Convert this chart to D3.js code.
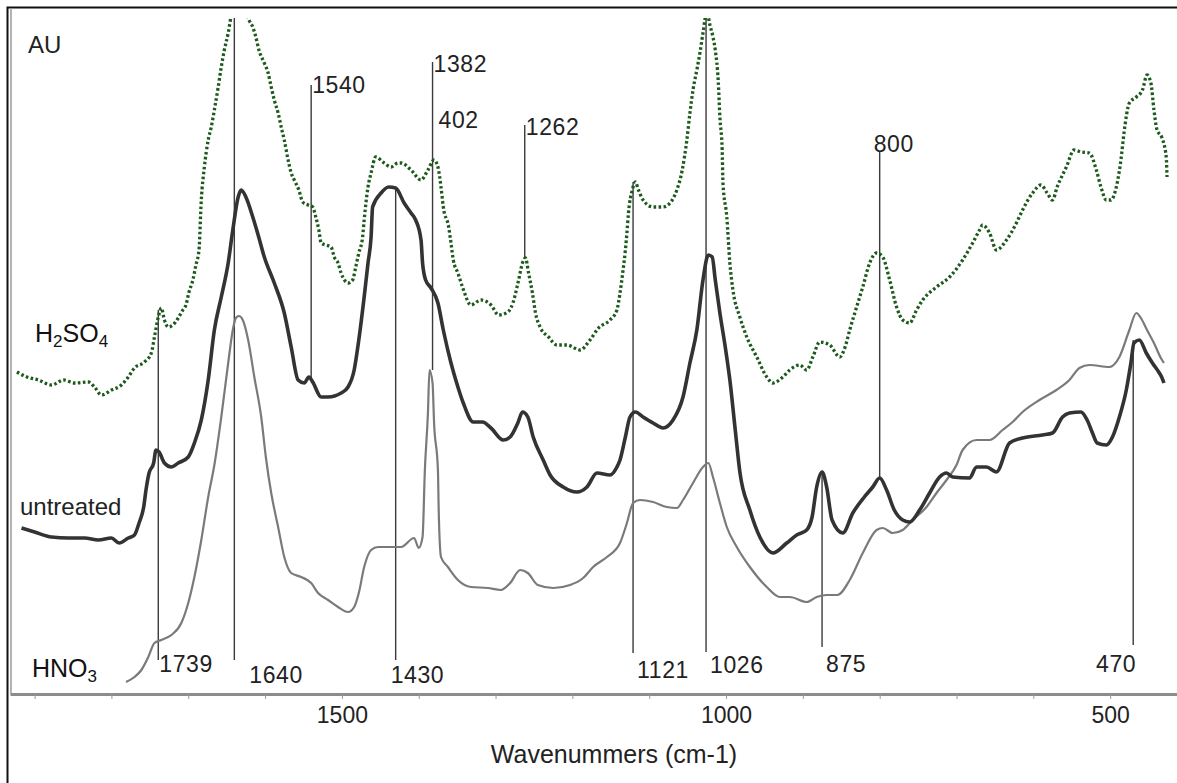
<!DOCTYPE html>
<html>
<head>
<meta charset="utf-8">
<script src="https://cdn.jsdelivr.net/npm/d3@7"></script>
<style>
  html, body { margin: 0; padding: 0; background: #fff; }
  svg { display: block; font-family: "Liberation Sans", Arial, sans-serif; }
</style>
</head>
<body>
<svg id="chart" width="1177" height="783"></svg>
<script>
// FTIR absorbance spectra (AU) against wavenumber (cm-1), three treatments.
const h2so4 = [
  [1923,0.318],[1910,0.313],[1895,0.310],[1878,0.305],[1862,0.310],[1848,0.307],[1830,0.308],[1822,0.303],
  [1813,0.295],[1800,0.300],[1787,0.305],[1778,0.313],[1770,0.322],[1757,0.328],[1748,0.337],[1744,0.353],
  [1739,0.373],[1735,0.382],[1731,0.370],[1726,0.363],[1720,0.365],[1713,0.372],[1707,0.380],[1703,0.385],
  [1699,0.398],[1694,0.410],[1690,0.425],[1686,0.440],[1683,0.490],[1679,0.523],[1674,0.550],[1670,0.563],
  [1666,0.580],[1661,0.603],[1657,0.623],[1653,0.640],[1648,0.657],[1644,0.675],[1634,0.705],[1621,0.670],
  [1616,0.663],[1612,0.653],[1608,0.640],[1601,0.627],[1596,0.617],[1592,0.603],[1588,0.590],[1583,0.577],
  [1579,0.563],[1575,0.550],[1570,0.530],[1566,0.517],[1562,0.510],[1556,0.500],[1551,0.488],[1544,0.485],
  [1538,0.483],[1534,0.473],[1530,0.460],[1527,0.447],[1521,0.445],[1514,0.443],[1510,0.433],[1505,0.427],
  [1501,0.417],[1492,0.407],[1486,0.410],[1482,0.423],[1478,0.437],[1473,0.453],[1471,0.470],[1466,0.503],
  [1462,0.517],[1456,0.533],[1445,0.527],[1436,0.523],[1427,0.527],[1423,0.527],[1410,0.520],[1397,0.510],
  [1388,0.520],[1380,0.530],[1375,0.523],[1371,0.503],[1368,0.483],[1361,0.463],[1358,0.447],[1355,0.430],
  [1349,0.417],[1343,0.403],[1332,0.385],[1319,0.390],[1306,0.385],[1296,0.375],[1284,0.378],[1277,0.388],
  [1270,0.410],[1265,0.427],[1261,0.432],[1257,0.417],[1252,0.397],[1248,0.377],[1242,0.363],[1231,0.353],
  [1220,0.345],[1207,0.345],[1190,0.340],[1177,0.350],[1166,0.362],[1151,0.370],[1142,0.380],[1138,0.397],
  [1134,0.420],[1131,0.440],[1129,0.457],[1127,0.477],[1122,0.500],[1118,0.508],[1114,0.500],[1108,0.490],
  [1095,0.483],[1082,0.483],[1070,0.490],[1064,0.500],[1057,0.520],[1051,0.550],[1047,0.577],[1043,0.600],
  [1038,0.620],[1034,0.637],[1030,0.657],[1025,0.678],[1021,0.665],[1017,0.653],[1014,0.640],[1010,0.607],
  [1008,0.573],[1005,0.540],[1004,0.507],[999,0.473],[995,0.427],[991,0.400],[982,0.373],[973,0.353],
  [960,0.333],[947,0.313],[939,0.307],[926,0.313],[917,0.320],[904,0.325],[895,0.320],[887,0.333],
  [878,0.348],[865,0.345],[852,0.333],[845,0.343],[839,0.360],[830,0.383],[822,0.403],[813,0.427],
  [804,0.437],[796,0.433],[787,0.410],[778,0.383],[770,0.370],[761,0.367],[752,0.380],[744,0.390],
  [726,0.403],[709,0.413],[692,0.430],[679,0.447],[670,0.460],[666,0.465],[657,0.457],[648,0.440],
  [635,0.450],[622,0.467],[614,0.480],[601,0.497],[590,0.505],[582,0.497],[575,0.490],[569,0.503],
  [557,0.523],[547,0.540],[538,0.538],[527,0.537],[518,0.520],[512,0.503],[505,0.490],[499,0.490],
  [492,0.503],[486,0.530],[482,0.557],[475,0.587],[466,0.593],[458,0.600],[452,0.615],[447,0.607],
  [443,0.580],[439,0.560],[433,0.553],[427,0.533],[426,0.513]
];

const untreated = [
  [1917,0.162],[1900,0.158],[1878,0.153],[1856,0.152],[1835,0.152],[1817,0.150],[1800,0.152],[1790,0.147],
  [1778,0.152],[1770,0.155],[1764,0.167],[1758,0.183],[1755,0.200],[1751,0.217],[1745,0.227],[1742,0.240],
  [1738,0.238],[1731,0.227],[1722,0.223],[1713,0.227],[1700,0.233],[1692,0.247],[1683,0.270],[1674,0.310],
  [1666,0.360],[1657,0.393],[1648,0.427],[1642,0.460],[1635,0.493],[1631,0.500],[1625,0.493],[1616,0.473],
  [1609,0.455],[1601,0.433],[1588,0.407],[1575,0.377],[1566,0.343],[1557,0.310],[1549,0.307],[1543,0.313],
  [1538,0.308],[1527,0.293],[1518,0.293],[1501,0.297],[1492,0.303],[1484,0.320],[1478,0.350],[1471,0.393],
  [1466,0.427],[1462,0.453],[1460,0.483],[1449,0.497],[1439,0.503],[1430,0.502],[1419,0.487],[1410,0.477],
  [1404,0.470],[1397,0.450],[1395,0.427],[1391,0.410],[1384,0.402],[1375,0.387],[1368,0.360],[1358,0.327],
  [1349,0.303],[1342,0.287],[1329,0.268],[1317,0.268],[1306,0.262],[1290,0.250],[1281,0.253],[1271,0.267],
  [1265,0.278],[1258,0.273],[1251,0.253],[1238,0.230],[1229,0.215],[1212,0.203],[1194,0.198],[1181,0.203],
  [1168,0.217],[1151,0.215],[1142,0.223],[1138,0.230],[1131,0.253],[1125,0.273],[1118,0.278],[1108,0.273],
  [1095,0.267],[1082,0.262],[1069,0.270],[1056,0.293],[1047,0.327],[1038,0.360],[1030,0.410],[1023,0.435],
  [1018,0.433],[1014,0.410],[1008,0.377],[1001,0.343],[995,0.310],[988,0.260],[982,0.218],[969,0.180],
  [956,0.153],[939,0.137],[921,0.147],[908,0.155],[895,0.160],[888,0.173],[882,0.203],[875,0.218],
  [869,0.203],[862,0.170],[848,0.157],[835,0.177],[820,0.193],[809,0.203],[800,0.212],[791,0.200],
  [781,0.180],[770,0.170],[761,0.168],[748,0.180],[735,0.197],[722,0.213],[713,0.217],[705,0.213],
  [683,0.212],[674,0.223],[661,0.223],[648,0.218],[631,0.247],[614,0.252],[588,0.255],[575,0.257],
  [562,0.273],[553,0.277],[538,0.278],[530,0.270],[523,0.257],[517,0.247],[505,0.245],[497,0.253],
  [488,0.273],[479,0.300],[473,0.327],[469,0.347],[462,0.350],[453,0.337],[445,0.327],[436,0.317],
  [433,0.313],[430,0.307]
];

const hno3 = [
  [1781,0.008],[1770,0.013],[1761,0.020],[1752,0.033],[1744,0.047],[1735,0.050],[1722,0.055],[1709,0.067],
  [1700,0.087],[1692,0.113],[1683,0.150],[1674,0.193],[1666,0.225],[1657,0.273],[1648,0.327],[1642,0.360],
  [1638,0.372],[1634,0.374],[1629,0.370],[1622,0.350],[1614,0.313],[1605,0.273],[1599,0.233],[1592,0.197],
  [1583,0.163],[1575,0.133],[1566,0.117],[1553,0.113],[1540,0.107],[1531,0.097],[1518,0.090],[1505,0.083],
  [1492,0.078],[1484,0.083],[1478,0.097],[1471,0.123],[1462,0.140],[1453,0.143],[1423,0.143],[1406,0.152],
  [1400,0.142],[1395,0.153],[1392,0.220],[1388,0.277],[1386,0.320],[1382,0.307],[1380,0.267],[1375,0.220],
  [1374,0.180],[1371,0.133],[1362,0.123],[1349,0.110],[1332,0.103],[1310,0.102],[1293,0.100],[1281,0.107],
  [1268,0.120],[1258,0.117],[1245,0.105],[1225,0.102],[1203,0.105],[1186,0.112],[1173,0.123],[1155,0.133],
  [1138,0.147],[1129,0.167],[1121,0.187],[1112,0.190],[1095,0.188],[1077,0.183],[1064,0.182],[1056,0.190],
  [1043,0.207],[1030,0.223],[1023,0.227],[1017,0.213],[1008,0.187],[999,0.163],[986,0.143],[969,0.123],
  [947,0.103],[930,0.093],[917,0.093],[895,0.088],[882,0.093],[869,0.095],[855,0.095],[839,0.110],
  [822,0.137],[804,0.160],[796,0.162],[783,0.157],[770,0.160],[757,0.170],[739,0.183],[726,0.197],
  [713,0.210],[700,0.225],[692,0.240],[674,0.250],[657,0.250],[640,0.260],[627,0.268],[614,0.278],
  [592,0.290],[570,0.300],[553,0.310],[540,0.322],[527,0.325],[501,0.323],[488,0.333],[475,0.360],
  [466,0.377],[460,0.372],[452,0.360],[443,0.347],[434,0.332],[430,0.327]
];

// Band assignments: wavenumber, label, and the absorbance span of each marker line
const peakWavenumbers = [1739, 1640, 1540, 1430, 1382, 1262, 1121, 1026, 875, 800, 470];
const peakLabels      = ["1739","1640","1540","1430","1382","1262","1121","1026","875","800","470"];
const peakTops        = [0.380, 0.700, 0.605, 0.503, 0.628, 0.565, 0.508, 0.700, 0.218, 0.538, 0.350];
const peakBottoms     = [0.030, 0.030, 0.310, 0.030, 0.320, 0.432, 0.037, 0.038, 0.043, 0.212, 0.045];

// Axis ticks every 100 cm-1, numbered every 500
const tickValues = [1900, 1800, 1700, 1600, 1500, 1400, 1300, 1200, 1100, 1000, 900, 800, 700, 600, 500];
const tickLabels = [1500, 1000, 500];

// Where each band label sits relative to its marker line
const labelLayout = [
  { end: "bottom", dx: 1,  dy: 12, anchor: "start" },
  { end: "bottom", dx: 15, dy: 23, anchor: "start" },
  { end: "top",    dx: 1,  dy: 8,  anchor: "start" },
  { end: "bottom", dx: -5, dy: 23, anchor: "start" },
  { end: "top",    dx: 1,  dy: 10, anchor: "start" },
  { end: "top",    dx: 1,  dy: 10, anchor: "start" },
  { end: "bottom", dx: 4,  dy: 25, anchor: "start" },
  { end: "bottom", dx: 4,  dy: 21, anchor: "start" },
  { end: "bottom", dx: 4,  dy: 25, anchor: "start" },
  { end: "top",    dx: -6, dy: 0,  anchor: "start" },
  { end: "bottom", dx: 3,  dy: 27, anchor: "end" }
];

const svg = d3.select("#chart");
const W = 1177, H = 783;
const plotLeft = 11, plotTop = 18, plotBottom = 694;

const x = d3.scaleLinear().domain([1932, 413]).range([10, 1177]);
const y = d3.scaleLinear().domain([0, 0.672]).range([690, 18]);

svg.append("rect").attr("width", W).attr("height", H).attr("fill", "#fff");

svg.append("clipPath").attr("id", "plotClip")
  .append("rect")
  .attr("x", plotLeft).attr("y", plotTop)
  .attr("width", W - plotLeft).attr("height", plotBottom - plotTop);

// outer frame
svg.append("path")
  .attr("d", `M7.5,${H} V7.5 H${W}`)
  .attr("fill", "none").attr("stroke", "#111").attr("stroke-width", 2);
// plot frame, left side
svg.append("line")
  .attr("x1", plotLeft).attr("x2", plotLeft)
  .attr("y1", 8).attr("y2", plotBottom)
  .attr("stroke", "#9a9a9a").attr("stroke-width", 1.5);

// x axis
const axis = d3.axisBottom(x)
  .tickValues(tickValues)
  .tickSize(5)
  .tickSizeOuter(0)
  .tickFormat(d => tickLabels.includes(d) ? String(d) : "");

const gx = svg.append("g")
  .attr("transform", `translate(0,${plotBottom})`)
  .call(axis);
gx.select(".domain").attr("stroke", "#8c8c8c").attr("stroke-width", 3);
gx.selectAll(".tick line").attr("stroke", "#9a9a9a").attr("stroke-width", 1);
gx.selectAll(".tick text")
  .attr("y", 13)
  .attr("fill", "#222")
  .style("font-family", "'Liberation Sans', Arial, sans-serif")
  .style("font-size", "23px");

svg.append("text")
  .attr("x", 614).attr("y", 763)
  .attr("text-anchor", "middle")
  .attr("fill", "#222")
  .style("font-size", "25px")
  .text("Wavenummers (cm-1)");

const plot = svg.append("g").attr("clip-path", "url(#plotClip)");

// band marker lines
peakWavenumbers.forEach((w, i) => {
  plot.append("line")
    .attr("x1", x(w)).attr("x2", x(w))
    .attr("y1", y(peakTops[i])).attr("y2", y(peakBottoms[i]))
    .attr("stroke", "#3a3a3a").attr("stroke-width", 1.4);
});

const line = d3.line()
  .x(d => x(d[0]))
  .y(d => y(d[1]))
  .curve(d3.curveMonotoneX);

plot.append("path").datum(hno3)
  .attr("d", line)
  .attr("fill", "none")
  .attr("stroke", "#7a7a7a")
  .attr("stroke-width", 2.2)
  .attr("stroke-linejoin", "round");

plot.append("path").datum(untreated)
  .attr("d", line)
  .attr("fill", "none")
  .attr("stroke", "#333")
  .attr("stroke-width", 3.6)
  .attr("stroke-linejoin", "round");

plot.append("path").datum(h2so4)
  .attr("d", line)
  .attr("fill", "none")
  .attr("stroke", "#1d5a1d")
  .attr("stroke-width", 3.3)
  .attr("stroke-dasharray", "2.6,2.4");

// band labels
const labels = svg.append("g")
  .attr("fill", "#222")
  .style("font-size", "23px")
  .style("letter-spacing", "0.6px");

peakWavenumbers.forEach((w, i) => {
  const L = labelLayout[i];
  const yEnd = L.end === "top" ? y(peakTops[i]) : y(peakBottoms[i]);
  labels.append("text")
    .attr("x", x(w) + L.dx)
    .attr("y", yEnd + L.dy)
    .attr("text-anchor", L.anchor)
    .text(peakLabels[i]);
});

// secondary band reading beside the 1382 marker
labels.append("text")
  .attr("x", x(1382) + 6)
  .attr("y", y(peakTops[4]) + 66)
  .text("402");

// series names
svg.append("rect")
  .attr("x", plotLeft + 1).attr("y", 640)
  .attr("width", 113).attr("height", plotBottom - 642)
  .attr("fill", "#fff");

svg.append("text")
  .attr("x", 28).attr("y", 53)
  .attr("fill", "#222").style("font-size", "24px")
  .text("AU");

const h2 = svg.append("text")
  .attr("x", 35).attr("y", 342)
  .attr("fill", "#111").style("font-size", "25px");
h2.append("tspan").text("H");
h2.append("tspan").attr("dy", 5).style("font-size", "17px").text("2");
h2.append("tspan").attr("dy", -5).text("SO");
h2.append("tspan").attr("dy", 5).style("font-size", "17px").text("4");

svg.append("text")
  .attr("x", 20).attr("y", 515)
  .attr("fill", "#222").style("font-size", "24px")
  .text("untreated");

const hn = svg.append("text")
  .attr("x", 32).attr("y", 677)
  .attr("fill", "#111").style("font-size", "25px");
hn.append("tspan").text("HNO");
hn.append("tspan").attr("dy", 5).style("font-size", "17px").text("3");
</script>
</body>
</html>
